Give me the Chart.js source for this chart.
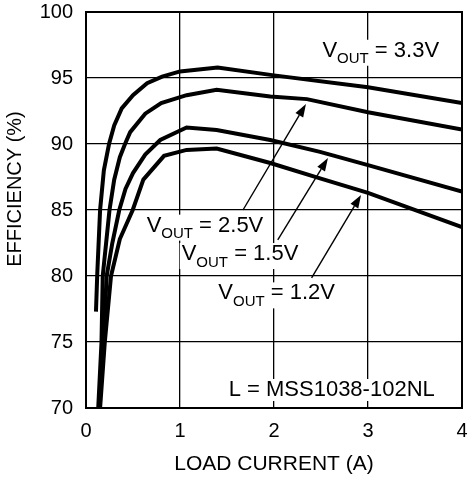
<!DOCTYPE html>
<html>
<head>
<meta charset="utf-8">
<script src="https://cdn.jsdelivr.net/npm/chart.js@4/dist/chart.umd.min.js"></script>
<style>
  html, body { margin: 0; padding: 0; background: #fff; }
  #wrap { width: 474px; height: 480px; }
</style>
</head>
<body>
<div id="wrap"><canvas id="eff"></canvas></div>
<script>
// load current (A) / efficiency (%)
const v33X = [0.106, 0.12, 0.15, 0.19, 0.245, 0.3, 0.38, 0.5, 0.65, 0.81, 1.0, 1.4, 2.0, 3.0, 4.0];
const v33Y = [77.3, 80.2, 85, 88, 90, 91.4, 92.7, 93.7, 94.6, 95.1, 95.5, 95.8, 95.2, 94.3, 93.1];

const v25X = [0.13, 0.165, 0.178, 0.25, 0.3, 0.36, 0.415, 0.47, 0.63, 0.8, 1.07, 1.39, 1.96, 2.35, 3.0, 4.0];
const v25Y = [70, 75, 80, 85, 87.3, 89, 90, 90.9, 92.3, 93.1, 93.7, 94.1, 93.6, 93.4, 92.4, 91.1];

const v15X = [0.14, 0.185, 0.22, 0.28, 0.354, 0.42, 0.5, 0.63, 0.79, 1.07, 1.39, 1.96, 2.49, 3.0, 4.0];
const v15Y = [70, 75, 80, 82.5, 85, 86.6, 87.8, 89.2, 90.3, 91.25, 91.06, 90.3, 89.4, 88.4, 86.4];

const v12X = [0.15, 0.2, 0.266, 0.36, 0.497, 0.61, 0.83, 1.07, 1.39, 1.96, 2.49, 3.0, 4.0];
const v12Y = [70, 75, 80, 82.8, 85, 87.3, 89.1, 89.55, 89.65, 88.56, 87.4, 86.3, 83.7];

const xTicks = [0, 1, 2, 3, 4];
const yTicks = [70, 75, 80, 85, 90, 95, 100];

// curve labels, anchored in data units (left edge, baseline)
const labelVolts = ['3.3V', '2.5V', '1.5V', '1.2V'];
const labelX = [2.515, 0.645, 1.018, 1.408];
const labelY = [96.61, 83.36, 81.21, 78.23];

// arrows from label to curve
const arrowFromX = [1.67, 2.04, 2.40];
const arrowFromY = [85.0, 82.73, 79.85];
const arrowToX = [2.34, 2.574, 2.926];
const arrowToY = [93.03, 88.94, 86.14];

const noteText = 'L = MSS1038-102NL';
const noteX = 2.614;
const noteY = 70.91;

const FONT = '"Liberation Sans", Arial, Helvetica, sans-serif';

function pts(xs, ys) {
    return xs.map((x, i) => ({ x: x, y: ys[i] }));
}

function curve(xs, ys) {
    return {
        data: pts(xs, ys),
        borderColor: '#000',
        borderWidth: 4,
        pointRadius: 0,
        tension: 0,
        fill: false,
        clip: 0
    };
}

const annotations = {
    id: 'annotations',
    afterDatasetsDraw(chart) {
        const ctx = chart.ctx;
        const sx = chart.scales.x, sy = chart.scales.y;
        const area = chart.chartArea;
        ctx.save();

        // frame on all four sides
        ctx.strokeStyle = '#000';
        ctx.lineWidth = 2;
        ctx.strokeRect(area.left, area.top, area.right - area.left, area.bottom - area.top);

        ctx.fillStyle = '#000';
        ctx.textBaseline = 'alphabetic';
        ctx.textAlign = 'left';

        // V_OUT labels with subscripts
        labelVolts.forEach((v, i) => {
            const px = sx.getPixelForValue(labelX[i]);
            const py = sy.getPixelForValue(labelY[i]);
            ctx.font = '22px ' + FONT;
            const wV = ctx.measureText('V').width;
            const rest = ' = ' + v;
            const wR = ctx.measureText(rest).width;
            ctx.font = '15px ' + FONT;
            const wS = ctx.measureText('OUT').width;

            ctx.fillStyle = '#fff';
            ctx.fillRect(px - 2, py - 17, wV + wS + wR + 4, 26);
            ctx.fillStyle = '#000';

            ctx.font = '22px ' + FONT;
            ctx.fillText('V', px, py);
            ctx.font = '15px ' + FONT;
            ctx.fillText('OUT', px + wV, py + 6.6);
            ctx.font = '22px ' + FONT;
            ctx.fillText(rest, px + wV + wS, py);
        });

        // inductor note
        ctx.font = '22px ' + FONT;
        const wn = ctx.measureText(noteText).width;
        const nx = sx.getPixelForValue(noteX);
        const ny = sy.getPixelForValue(noteY);
        ctx.fillStyle = '#fff';
        ctx.fillRect(nx - wn / 2 - 2, ny - 17, wn + 4, 22);
        ctx.fillStyle = '#000';
        ctx.textAlign = 'center';
        ctx.fillText(noteText, nx, ny);

        // arrows
        ctx.lineWidth = 1.4;
        arrowFromX.forEach((fx, i) => {
            const x0 = sx.getPixelForValue(fx), y0 = sy.getPixelForValue(arrowFromY[i]);
            const x1 = sx.getPixelForValue(arrowToX[i]), y1 = sy.getPixelForValue(arrowToY[i]);
            const a = Math.atan2(y1 - y0, x1 - x0);
            const len = 13, half = 4.5;
            const bx = x1 - len * Math.cos(a), by = y1 - len * Math.sin(a);
            ctx.beginPath();
            ctx.moveTo(x0, y0);
            ctx.lineTo(bx, by);
            ctx.stroke();
            ctx.beginPath();
            ctx.moveTo(x1, y1);
            ctx.lineTo(bx + half * Math.sin(a), by - half * Math.cos(a));
            ctx.lineTo(bx - half * Math.sin(a), by + half * Math.cos(a));
            ctx.closePath();
            ctx.fill();
        });

        // y axis title, sits a bit above the middle in the original
        ctx.font = '20px ' + FONT;
        ctx.textAlign = 'center';
        ctx.textBaseline = 'middle';
        ctx.translate(15, 189);
        ctx.rotate(-Math.PI / 2);
        ctx.fillText('EFFICIENCY (%)', 0, 0);

        ctx.restore();
    }
};

new Chart(document.getElementById('eff'), {
    type: 'line',
    data: {
        datasets: [curve(v33X, v33Y), curve(v25X, v25Y), curve(v15X, v15Y), curve(v12X, v12Y)]
    },
    options: {
        responsive: true,
        maintainAspectRatio: false,
        animation: false,
        devicePixelRatio: 1,
        layout: { padding: { top: 12, right: 12, left: 0, bottom: 0 } },
        plugins: { legend: { display: false }, tooltip: { enabled: false } },
        scales: {
            x: {
                type: 'linear',
                min: 0,
                max: 4,
                afterBuildTicks: s => { s.ticks = xTicks.map(v => ({ value: v })); },
                // fixed box; drop the edge padding chart.js adds for overhanging labels
                afterFit: s => { s.height = 72; s.paddingLeft = 0; s.paddingRight = 0; },
                ticks: { color: '#000', padding: 11, font: { size: 20, family: FONT } },
                grid: { color: '#000', lineWidth: 1.3, drawTicks: false },
                border: { color: '#000', width: 2 },
                title: {
                    display: true,
                    text: 'LOAD CURRENT (A)',
                    color: '#000',
                    font: { size: 21, family: FONT },
                    padding: { top: 0, bottom: 3 }
                }
            },
            y: {
                min: 70,
                max: 100,
                afterBuildTicks: s => { s.ticks = yTicks.map(v => ({ value: v })); },
                afterFit: s => { s.width = 86; s.paddingTop = 0; s.paddingBottom = 0; },
                ticks: { color: '#000', padding: 13, font: { size: 20, family: FONT } },
                grid: { color: '#000', lineWidth: 1.3, drawTicks: false },
                border: { color: '#000', width: 2 }
            }
        }
    },
    plugins: [annotations]
});
</script>
</body>
</html>
